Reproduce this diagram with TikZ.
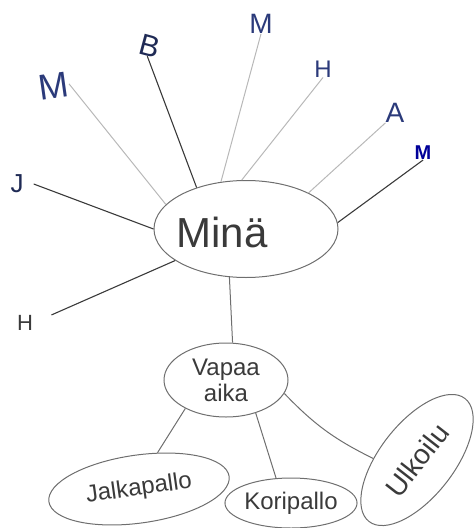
\documentclass[tikz,border=0pt]{standalone}
\usepackage{fontspec}
\setmainfont{Liberation Sans}
\usetikzlibrary{shapes.geometric}
\definecolor{inkblue}{HTML}{2B3A7A}
\definecolor{inkdark}{HTML}{1F2A55}
\definecolor{pencil}{HTML}{6E6E6E}
\definecolor{pencillight}{HTML}{B8B8B8}
\definecolor{pencildark}{HTML}{3A3A3A}
\tikzset{
  bubble/.style={draw=pencil, line width=1pt, ellipse, inner sep=0pt, text=pencildark},
  lbl/.style={inner sep=0pt, text=inkblue, font=\fontsize{28}{28}\selectfont},
  lightline/.style={draw=pencillight, line width=1pt},
  darkline/.style={draw=pencildark, line width=1.1pt},
  midline/.style={draw=pencil, line width=1pt},
}
\begin{document}
\begin{tikzpicture}[x=1pt, y=-1pt]
\useasboundingbox (0,0) rectangle (475,528);
% central bubble
\node[bubble, minimum width=184pt, minimum height=97pt] (mina) at (246,229) {};
\node[inner sep=0pt, text=pencildark, font=\fontsize{42}{42}\selectfont] (minatext) at (222,232) {Minä};
% labels
\node[lbl, font=\fontsize{36}{36}\selectfont, rotate=8] (lblMa) at (54,86) {M};
\node[lbl, text=inkdark, font=\fontsize{30}{30}\selectfont, rotate=-15] (lblB) at (150,46) {B};
\node[lbl] (lblMb) at (261,24) {M};
\node[lbl, font=\fontsize{24}{24}\selectfont] (lblHa) at (323,69) {H};
\node[lbl] (lblA) at (395,113) {A};
\node[lbl, text=blue!60!black, font=\fontsize{20}{20}\selectfont\bfseries] (lblMc) at (423,153) {M};
\node[lbl, text=inkdark, font=\fontsize{26}{26}\selectfont] (lblJ) at (17,184) {J};
\node[lbl, text=pencildark, font=\fontsize{22}{22}\selectfont] (lblHb) at (25,323) {H};
% spokes
\draw[lightline] (lblMa.east) -- (mina.163);
\draw[darkline] (lblB.south) -- (mina.140);
\draw[lightline] (lblMb.south) -- (mina.118);
\draw[lightline] (lblHa.south) -- (mina.95);
\draw[lightline] (lblA.south west) -- (mina.30);
\draw[darkline] (lblMc.south) -- (mina.4);
\path (lblJ.east) ++(10pt,0pt) coordinate (jstart);
\draw[darkline] (jstart) -- (mina.180);
\draw[darkline, shorten <=20pt] (lblHb.east) -- (mina.204);
% free time
\node[bubble, minimum width=124pt, minimum height=74pt, align=center,
      font=\fontsize{24}{26}\selectfont] (vapaa) at (226,380) {Vapaa\\aika};
\draw[midline] (mina.251) -- (vapaa.80);
\node[bubble, minimum width=182pt, minimum height=68pt, rotate=8,
      font=\fontsize{24}{24}\selectfont] (jalka) at (139,489) {Jalkapallo};
\node[bubble, minimum width=124pt, minimum height=50pt,
      font=\fontsize{24}{24}\selectfont] (kori) at (291,503) {Koripallo};
\node[bubble, minimum width=156pt, minimum height=74pt, rotate=52,
      font=\fontsize{28}{28}\selectfont] (ulk) at (417,460) {Ulkoilu};
\draw[midline] (vapaa.215) -- (jalka.55);
\draw[midline] (vapaa.312) -- (kori.121);
\draw[midline] (vapaa.347) to[bend right=10] (ulk.126);
\end{tikzpicture}
\end{document}
